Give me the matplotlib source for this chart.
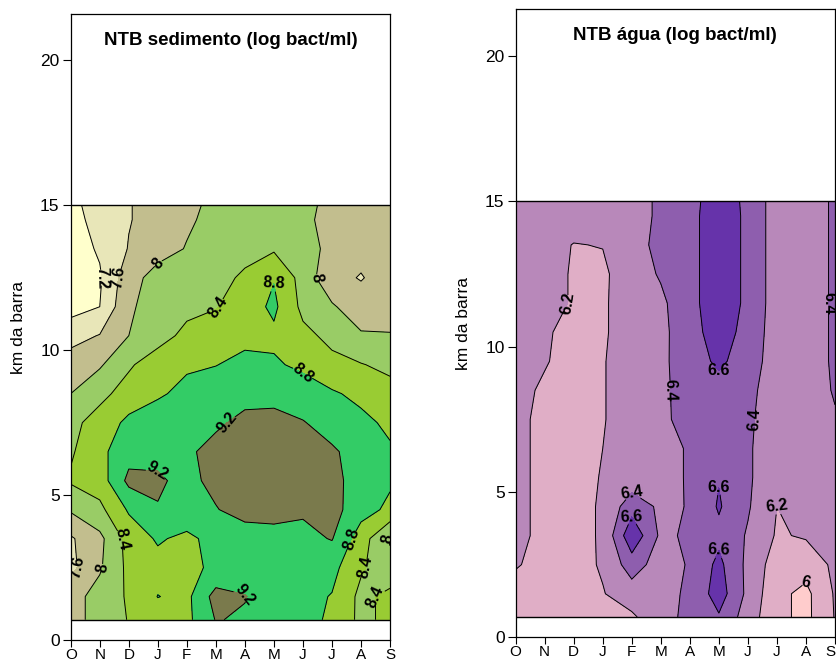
import numpy as np
import matplotlib.pyplot as plt

plt.rcParams['font.family'] = ['Liberation Sans', 'DejaVu Sans']

months = ['O', 'N', 'D', 'J', 'F', 'M', 'A', 'M', 'J', 'J', 'A', 'S']
km = [0.7, 1.5, 2.5, 3.5, 4.5, 5.5, 6.5, 7.5, 8.5, 9.5, 10.5, 11.5, 12.5, 13.5, 14.5, 15.0]

# NTB sedimento, rows = km (bottom to top), cols = months
sedimento = np.array([
    [7.85, 8.15, 8.42, 8.60, 8.70, 9.22, 9.15, 8.95, 8.90, 8.75, 8.30, 8.50],
    [7.85, 8.15, 8.45, 8.81, 8.70, 9.35, 9.22, 8.95, 8.92, 8.78, 8.30, 8.50],
    [7.50, 7.95, 8.50, 8.65, 8.72, 8.86, 8.95, 8.95, 8.95, 8.92, 8.45, 8.15],
    [7.55, 7.90, 8.55, 8.85, 8.70, 8.95, 9.00, 9.05, 9.10, 9.22, 8.60, 7.95],
    [8.05, 8.30, 8.85, 9.18, 9.10, 9.18, 9.35, 9.35, 9.25, 9.35, 8.95, 8.72],
    [8.45, 8.60, 9.30, 9.25, 9.10, 9.30, 9.45, 9.50, 9.45, 9.30, 9.05, 8.85],
    [8.35, 8.70, 9.05, 9.10, 9.15, 9.30, 9.40, 9.40, 9.35, 9.25, 9.05, 8.85],
    [8.30, 8.55, 8.90, 9.00, 9.10, 9.15, 9.28, 9.30, 9.22, 9.05, 8.90, 8.72],
    [8.00, 8.30, 8.55, 8.75, 8.90, 9.00, 9.10, 9.10, 9.00, 8.85, 8.70, 8.55],
    [7.80, 7.95, 8.35, 8.60, 8.75, 8.79, 8.90, 8.85, 8.72, 8.50, 8.42, 8.30],
    [7.45, 7.62, 8.00, 8.25, 8.50, 8.60, 8.70, 8.72, 8.50, 8.30, 8.05, 8.02],
    [7.05, 7.20, 7.95, 8.15, 8.30, 8.38, 8.60, 8.88, 8.30, 8.05, 7.75, 7.85],
    [7.00, 7.15, 7.85, 8.15, 8.30, 8.30, 8.45, 8.78, 8.25, 7.70, 7.58, 7.75],
    [7.00, 7.25, 7.62, 7.85, 8.02, 8.20, 8.30, 8.35, 8.15, 7.90, 7.70, 7.80],
    [7.00, 7.40, 7.58, 7.75, 7.95, 8.10, 8.20, 8.28, 8.10, 7.85, 7.80, 7.85],
    [7.05, 7.45, 7.58, 7.75, 7.92, 8.08, 8.20, 8.25, 8.10, 7.90, 7.85, 7.90],
])

# NTB agua
agua = np.array([
    [6.14, 6.12, 6.12, 6.18, 6.17, 6.33, 6.45, 6.58, 6.30, 6.05, 5.95, 6.21],
    [6.15, 6.13, 6.12, 6.19, 6.30, 6.36, 6.42, 6.70, 6.35, 6.05, 5.95, 6.22],
    [6.21, 6.16, 6.13, 6.22, 6.50, 6.30, 6.42, 6.65, 6.35, 6.10, 6.08, 6.24],
    [6.23, 6.17, 6.14, 6.22, 6.75, 6.36, 6.43, 6.55, 6.38, 6.18, 6.22, 6.28],
    [6.23, 6.17, 6.14, 6.22, 6.52, 6.36, 6.41, 6.62, 6.42, 6.20, 6.27, 6.30],
    [6.23, 6.17, 6.14, 6.21, 6.27, 6.33, 6.42, 6.59, 6.42, 6.30, 6.31, 6.33],
    [6.23, 6.17, 6.14, 6.20, 6.27, 6.33, 6.42, 6.50, 6.42, 6.30, 6.32, 6.35],
    [6.23, 6.17, 6.14, 6.19, 6.28, 6.36, 6.47, 6.50, 6.43, 6.30, 6.33, 6.39],
    [6.24, 6.18, 6.15, 6.19, 6.28, 6.36, 6.48, 6.52, 6.45, 6.30, 6.34, 6.41],
    [6.25, 6.21, 6.15, 6.19, 6.28, 6.36, 6.50, 6.64, 6.50, 6.30, 6.33, 6.42],
    [6.26, 6.22, 6.15, 6.18, 6.28, 6.35, 6.52, 6.70, 6.53, 6.30, 6.33, 6.42],
    [6.27, 6.24, 6.19, 6.18, 6.28, 6.36, 6.54, 6.72, 6.56, 6.30, 6.33, 6.42],
    [6.28, 6.24, 6.19, 6.17, 6.30, 6.42, 6.54, 6.72, 6.56, 6.30, 6.33, 6.42],
    [6.28, 6.25, 6.195, 6.205, 6.33, 6.45, 6.54, 6.72, 6.56, 6.30, 6.33, 6.42],
    [6.30, 6.28, 6.27, 6.28, 6.33, 6.43, 6.54, 6.72, 6.56, 6.30, 6.33, 6.42],
    [6.30, 6.28, 6.28, 6.30, 6.33, 6.43, 6.54, 6.70, 6.56, 6.30, 6.33, 6.42],
])

sed_levels = [7.2, 7.6, 8.0, 8.4, 8.8, 9.2]
sed_colors = ['#FFFFCC', '#E8E6B8', '#C2BE8E', '#99CC66', '#99CC33', '#33CC66', '#7A7A4C']
agua_levels = [6.0, 6.2, 6.4, 6.6]
agua_colors = ['#FFCCCC', '#E0AEC6', '#B888BA', '#8E5EAE', '#6633AA']


def panel(ax, z, levels, colors, title, title_y):
    x = np.arange(len(months))
    bounds = [z.min() - 1] + levels + [z.max() + 1]
    ax.contourf(x, km, z, levels=bounds, colors=colors)
    cs = ax.contour(x, km, z, levels=levels, colors='k', linewidths=0.7)
    labels = ax.clabel(cs, fmt='%g', fontsize=11.5, inline=True, inline_spacing=1)
    for t in labels:
        t.set_fontweight('bold')
    ax.axhline(km[0], color='k', lw=1)
    ax.axhline(km[-1], color='k', lw=1)
    ax.set_xlim(0, len(months) - 1)
    ax.set_ylim(0, 21.6)
    ax.set_xticks(x)
    ax.set_xticklabels(months, fontsize=11)
    ax.set_yticks([0, 5, 10, 15, 20])
    ax.tick_params(axis='y', labelsize=12.5, direction='out', length=6, width=0.8, pad=2)
    ax.tick_params(axis='x', direction='out', length=5, width=0.8, pad=0.5)
    ax.set_ylabel('km da barra', fontsize=12.5, labelpad=10)
    ax.text(0.5, title_y, title, transform=ax.transAxes, ha='center', va='center',
            fontsize=13.5, fontweight='bold')
    for s in ax.spines.values():
        s.set_linewidth(0.9)


fig = plt.figure(figsize=(8.37, 6.64), dpi=100)
ax1 = fig.add_axes([0.0845, 0.0361, 0.3815, 0.9428])
ax2 = fig.add_axes([0.6161, 0.0402, 0.3815, 0.9455])

panel(ax1, sedimento, sed_levels, sed_colors, 'NTB sedimento (log bact/ml)', 0.958)
panel(ax2, agua, agua_levels, agua_colors, 'NTB água (log bact/ml)', 0.958)
ax2.get_xticklabels()[-1].set_horizontalalignment('right')

fig.savefig('out.png', dpi=100)
